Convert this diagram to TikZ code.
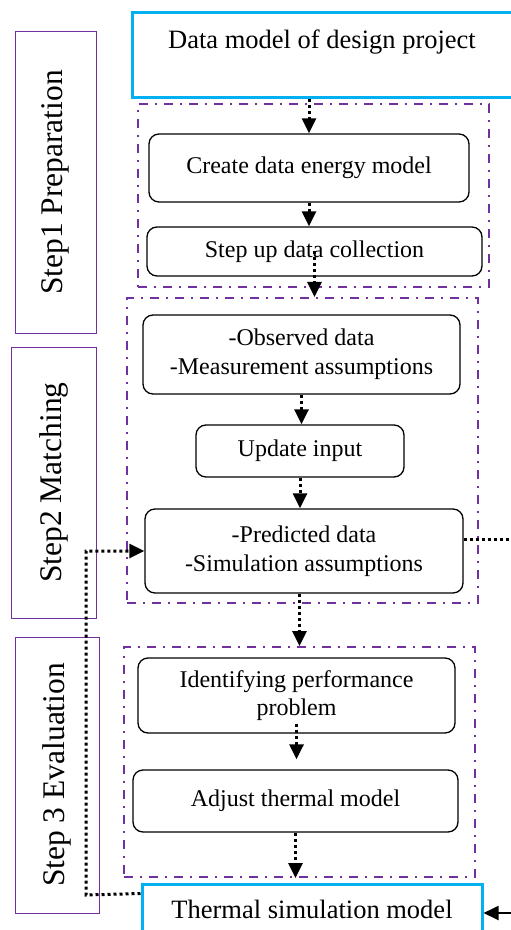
\documentclass[tikz,border=0pt]{standalone}
\usepackage{fontspec}
\setmainfont{Liberation Serif}
\usetikzlibrary{arrows.meta}
\definecolor{modelblue}{RGB}{0,176,240}
\definecolor{phasepurple}{RGB}{112,48,160}

\begin{document}
\begin{tikzpicture}[x=0.5pt, y=-0.5pt,
    box/.style={draw, rounded corners=5pt, line width=0.65pt, align=center, inner sep=2pt, font=\fontsize{12}{14.3}\selectfont},
    model/.style={draw=modelblue, line width=1.5pt, inner sep=0pt, font=\fontsize{13.25}{16}\selectfont},
    phase/.style={draw=phasepurple, line width=0.5pt, rotate=90, font=\fontsize{15.75}{18}\selectfont},
    group/.style={draw=phasepurple, line width=1pt, dash pattern=on 4.5pt off 3.5pt on 1pt off 3.5pt, inner sep=0pt},
    flow/.style={line width=1.5pt, dash pattern=on 1.5pt off 1.5pt, -{Triangle[width=7pt,length=7.5pt]}}]

    \useasboundingbox (0,0) rectangle (510,930);

    \node[group, minimum width=175.5pt, minimum height=91.5pt] (grp1) at (313.5,195.5) {};
    \node[group, minimum width=175.5pt, minimum height=152.5pt] (grp2) at (302.5,450.5) {};
    \node[group, minimum width=175.5pt, minimum height=115pt] (grp3) at (299.5,762) {};

    \node[phase, minimum width=150.5pt, minimum height=40.5pt] (prep) at (55.5,182.5) {Step1 Preparation};
    \node[phase, minimum width=135.5pt, minimum height=42.5pt] (match) at (53.5,482.5) {Step2 Matching};
    \node[phase, minimum width=138pt, minimum height=42pt] (eval) at (57,775) {Step 3 Evaluation};

    \node[model, minimum width=190pt, text height=18pt, text depth=24.5pt] (design) at (322,55.5) {Data model of design project};
    \node[box, minimum width=160pt, minimum height=34pt] (energy) at (309,168) {Create data energy model};
    \node[box, minimum width=167.5pt, minimum height=24.5pt] (collect) at (314.5,251.5) {Step up data collection};
    \node[box, minimum width=158.5pt, minimum height=39.5pt] (observed) at (301.5,354.5) {-Observed data\\-Measurement assumptions};
    \node[box, minimum width=104pt, minimum height=26pt] (update) at (300,451) {Update input};
    \node[box, minimum width=159pt, minimum height=42pt] (predicted) at (304,551) {-Predicted data\\-Simulation assumptions};
    \node[box, minimum width=158.5pt, minimum height=37.5pt] (identify) at (296.5,695.5) {Identifying performance\\problem};
    \node[box, minimum width=162.5pt, minimum height=31pt] (adjust) at (295.5,801) {Adjust thermal model};
    \node[model, minimum width=170pt, text height=17pt, text depth=21pt] (thermal) at (312,922) {Thermal simulation model};

    \coordinate (loop) at (86,895);
    \coordinate (out) at (515,539);
    \coordinate (ext) at (515,913);

    \draw[flow] (energy.north |- design.south) -- (energy.north);
    \draw[flow] (energy.south) -- (energy.south |- collect.north);
    \draw[flow] (collect.center) -- (collect.center |- grp2.north);
    \draw[flow] (observed.south) -- (observed.south |- update.north);
    \draw[flow] (update.south) -- (update.south |- predicted.north);
    \draw[flow] (grp3.north |- predicted.south) -- (grp3.north);
    \draw[flow] ([yshift=5pt]identify.south) -- ([yshift=5pt]identify.south |- adjust.north);
    \draw[flow] (adjust.south) -- (adjust.south |- grp3.south);
    \draw[flow] ([yshift=-5.5pt]thermal.north west) -- (loop) |- (predicted.west);
    \draw[flow, -] ([yshift=6pt]predicted.east) -- (out);
    \draw[line width=0.9pt, -{Triangle[width=7pt,length=7.5pt]}] (ext) -- (ext -| thermal.east);
\end{tikzpicture}
\end{document}
